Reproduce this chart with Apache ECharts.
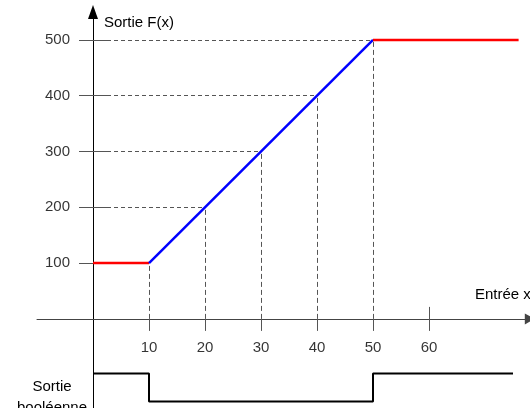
<!DOCTYPE html>
<html><head><meta charset="utf-8">
<script src="https://cdn.jsdelivr.net/npm/echarts@6/dist/echarts.min.js"></script>
<style>html,body{margin:0;padding:0;background:#fff}#c{width:530px;height:408px}</style>
</head><body><div id="c"></div>
<script>
// Data
const xTicks = [10, 20, 30, 40, 50, 60];
const yTicks = [100, 200, 300, 400, 500];
const redLow = [[0, 100], [10, 100]];
const blueRamp = [[10, 100], [50, 500]];
const redHigh = [[50, 500], [76, 500]];
const guideX = [10, 20, 30, 40, 50];
const guideY = [100, 200, 300, 400, 500];
const boolX = [0, 10, 10, 50, 50, 75];
const boolLevel = [-98, -98, -148, -148, -98, -98];

const FONT = 'Liberation Sans, Arial, sans-serif';
const chart = echarts.init(document.getElementById('c'), null, {renderer: 'canvas'});

const hGuides = [];
const vGuides = [];
guideX.forEach((x, i) => {
  if (i > 0) hGuides.push({coords: [[0, guideY[i]], [x, guideY[i]]]});
  vGuides.push({coords: [[x, 0], [x, guideY[i]]]});
});
const ticks = [];
yTicks.forEach(v => ticks.push({coords: [[-2.5, v], [2.5, v]]}));
xTicks.forEach(v => {
  const top = guideX.includes(v) ? 0 : 21.5;
  ticks.push({coords: [[v, -21.5], [v, top]]});
});

chart.setOption({
  animation: false,
  grid: {left: 37, top: 12, width: 492.8, height: 400.86, containLabel: false, outerBoundsMode: 'none'},
  xAxis: {
    type: 'value', min: -10, max: 78,
    splitLine: {show: false},
    axisLine: {onZero: true, lineStyle: {color: '#444', width: 1}, symbol: ['none', 'triangle'], symbolSize: [11, 10]},
    axisTick: {show: false},
    axisLabel: {show: false}
  },
  yAxis: {
    type: 'value', min: -168.4, max: 550,
    splitLine: {show: false},
    axisLine: {onZero: true, lineStyle: {color: '#000', width: 1}, symbol: ['none', 'triangle'], symbolSize: [10, 14]},
    axisTick: {show: false},
    axisLabel: {show: false}
  },
  series: [
    {type: 'lines', coordinateSystem: 'cartesian2d', z: 1, silent: true,
      lineStyle: {color: '#555', width: 1, type: [4, 3], opacity: 1}, data: hGuides},
    {type: 'lines', coordinateSystem: 'cartesian2d', z: 1, silent: true,
      lineStyle: {color: '#555', width: 1, type: [5, 3], opacity: 1}, data: vGuides},
    {type: 'lines', coordinateSystem: 'cartesian2d', z: 1, silent: true,
      lineStyle: {color: '#555', width: 1, opacity: 1}, data: ticks},
    {type: 'line', data: redLow, showSymbol: false, lineStyle: {color: '#ff0000', width: 2.5}, z: 3},
    {type: 'line', data: blueRamp, showSymbol: false, lineStyle: {color: '#0000ff', width: 2.5}, z: 3},
    {type: 'line', data: redHigh, showSymbol: false, lineStyle: {color: '#ff0000', width: 2.5}, z: 3},
    {type: 'line', data: boolX.map((x, i) => [x, boolLevel[i]]), showSymbol: false,
      lineStyle: {color: '#000', width: 2}, z: 3},
    {type: 'scatter', symbolSize: 0, silent: true, data: xTicks.map(v => [v, 0]),
      label: {show: true, position: 'bottom', distance: 21, formatter: p => String(p.value[0]),
        color: '#000', fontSize: 15, fontFamily: FONT}},
    {type: 'scatter', symbolSize: 0, silent: true, data: yTicks.map(v => [0, v]),
      label: {show: true, position: 'left', distance: 23, formatter: p => String(p.value[1]),
        color: '#000', fontSize: 15, fontFamily: FONT}}
  ],
  graphic: [
    {type: 'text', left: 104, top: 15, style: {text: 'Sortie F(x)', font: '15px ' + FONT, fill: '#000'}},
    {type: 'text', left: 475, top: 287, style: {text: 'Entrée x', font: '15px ' + FONT, fill: '#000'}},
    {type: 'text', x: 52, y: 376, style: {text: 'Sortie\nbooléenne', font: '15px ' + FONT, fill: '#000', align: 'center', verticalAlign: 'top', lineHeight: 21}}
  ]
});
</script></body></html>
